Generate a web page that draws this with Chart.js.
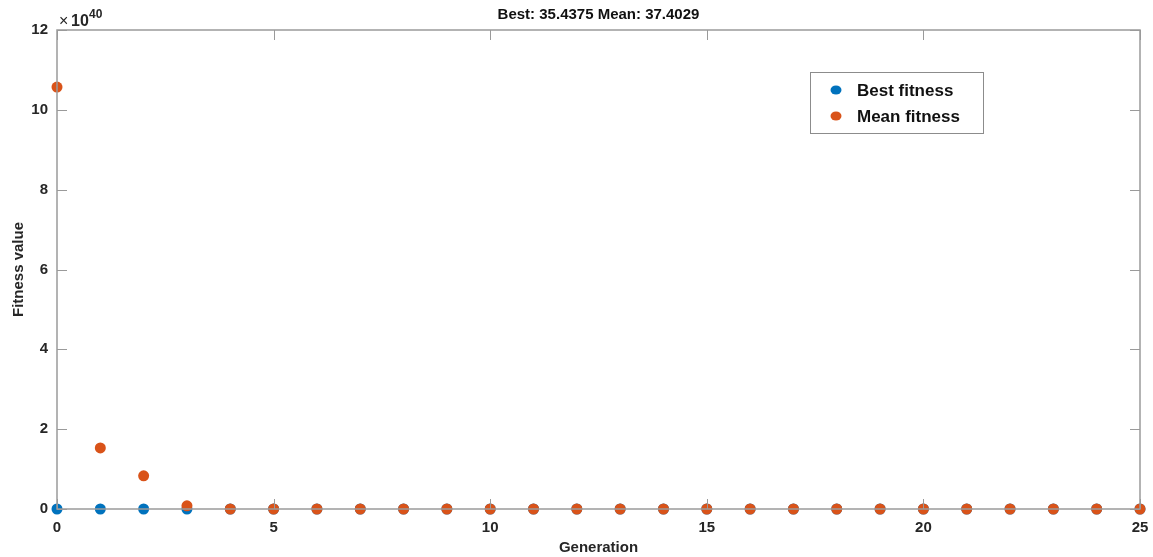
<!DOCTYPE html>
<html>
<head>
<meta charset="utf-8">
<script src="https://cdn.jsdelivr.net/npm/chart.js@4.4.0/dist/chart.umd.min.js"></script>
<style>
  html, body { margin:0; padding:0; background:#fff; }
  #wrap { width:1153px; height:557px; }
</style>
</head>
<body>
<div id="wrap"><canvas id="gaChart" width="1153" height="557"></canvas></div>
<script>
// values in units of 1e40
const generations = [0,1,2,3,4,5,6,7,8,9,10,11,12,13,14,15,16,17,18,19,20,21,22,23,24,25];
const bestFitness = [0,0,0,0,0,0,0,0,0,0,0,0,0,0,0,0,0,0,0,0,0,0,0,0,0,0];
const meanFitness = [10.57,1.53,0.83,0.08,0,0,0,0,0,0,0,0,0,0,0,0,0,0,0,0,0,0,0,0,0,0];
const xTicks = [0,5,10,15,20,25];
const yTicks = [0,2,4,6,8,10,12];
const titleText = 'Best: 35.4375 Mean: 37.4029';

const blue = '#0072BD';
const orange = '#D95319';
const axisColor = '#9a9a9a';
const textColor = '#262626';
const font = 'Liberation Sans, Arial, sans-serif';

// ==========================
// MATLAB STYLE BOX + INWARD TICKS + TEXT
// ==========================
const matlabAxes = {
  id:'matlabAxes',
  afterDatasetsDraw(chart){
    const {ctx, chartArea:a, scales:{x, y}} = chart;
    ctx.save();
    ctx.strokeStyle = axisColor;
    ctx.lineWidth = 1.5;
    ctx.strokeRect(a.left, a.top, a.right - a.left, a.bottom - a.top);
    ctx.lineWidth = 1;
    ctx.beginPath();
    xTicks.forEach(v=>{
      const px = Math.round(x.getPixelForValue(v)) + 0.5;
      ctx.moveTo(px, a.bottom); ctx.lineTo(px, a.bottom - 10);
      ctx.moveTo(px, a.top); ctx.lineTo(px, a.top + 10);
    });
    yTicks.forEach(v=>{
      const py = Math.round(y.getPixelForValue(v)) + 0.5;
      ctx.moveTo(a.left, py); ctx.lineTo(a.left + 10, py);
      ctx.moveTo(a.right, py); ctx.lineTo(a.right - 10, py);
    });
    ctx.stroke();

    // title
    ctx.fillStyle = '#111';
    ctx.font = 'bold 15px ' + font;
    ctx.textAlign = 'center';
    ctx.textBaseline = 'middle';
    ctx.fillText(titleText, (a.left + a.right) / 2, 15);

    // exponent
    ctx.textAlign = 'left';
    ctx.font = '16px ' + font;
    ctx.fillStyle = textColor;
    ctx.fillText('\u00d7', a.left + 2, 22);
    ctx.font = 'bold 16px ' + font;
    ctx.fillText('10', a.left + 14, 22);
    ctx.font = 'bold 12px ' + font;
    ctx.fillText('40', a.left + 32, 15);

    // legend
    const lx = 810, ly = 72, lw = 173, lh = 61;
    ctx.fillStyle = '#fff';
    ctx.fillRect(lx, ly, lw, lh);
    ctx.strokeStyle = '#8c8c8c';
    ctx.lineWidth = 1;
    ctx.strokeRect(lx + 0.5, ly + 0.5, lw, lh);
    const items = [[blue, 'Best fitness', ly + 18], [orange, 'Mean fitness', ly + 44]];
    ctx.font = 'bold 17px ' + font;
    ctx.textBaseline = 'middle';
    items.forEach(([c, t, yy])=>{
      ctx.fillStyle = c;
      ctx.beginPath();
      ctx.ellipse(lx + 26, yy, 5.5, 4.5, 0, 0, Math.PI * 2);
      ctx.fill();
      ctx.fillStyle = '#111';
      ctx.fillText(t, lx + 47, yy + 1);
    });
    ctx.restore();
  }
};

new Chart(document.getElementById('gaChart'), {
  type:'scatter',
  data:{
    datasets:[
      {
        label:'Mean fitness',
        data:generations.map((g,i)=>({x:g, y:meanFitness[i]})),
        backgroundColor:orange,
        borderColor:orange,
        pointRadius:5.5,
        pointBorderWidth:0,
        clip:false,
        order:0
      },
      {
        label:'Best fitness',
        data:generations.map((g,i)=>({x:g, y:bestFitness[i]})),
        backgroundColor:blue,
        borderColor:blue,
        pointRadius:5.5,
        pointBorderWidth:0,
        clip:false,
        order:1
      }
    ]
  },
  options:{
    responsive:false,
    animation:false,
    layout:{ padding:{ top:30, right:13, left:0, bottom:0 } },
    plugins:{ legend:{ display:false }, tooltip:{ enabled:false } },
    scales:{
      x:{
        type:'linear', min:0, max:25,
        afterBuildTicks: s => { s.ticks = xTicks.map(v=>({value:v})); },
        afterFit: s => { s.height = 48; s.paddingRight = 0; s.paddingLeft = 0; },
        grid:{ display:false, drawTicks:false },
        border:{ display:false },
        ticks:{ color:textColor, padding:10, font:{ family:font, size:15, weight:'bold' } },
        title:{ display:true, text:'Generation', color:textColor, padding:{top:2, bottom:0}, font:{ family:font, size:15, weight:'bold' } }
      },
      y:{
        type:'linear', min:0, max:12,
        afterBuildTicks: s => { s.ticks = yTicks.map(v=>({value:v})); },
        afterFit: s => { s.width = 57; s.paddingTop = 0; s.paddingBottom = 0; },
        grid:{ display:false, drawTicks:false },
        border:{ display:false },
        ticks:{ color:textColor, padding:9, font:{ family:font, size:15, weight:'bold' } },
        title:{ display:true, text:'Fitness value', color:textColor, padding:{top:10, bottom:4}, font:{ family:font, size:15, weight:'bold' } }
      }
    }
  },
  plugins:[matlabAxes]
});
</script>
</body>
</html>
